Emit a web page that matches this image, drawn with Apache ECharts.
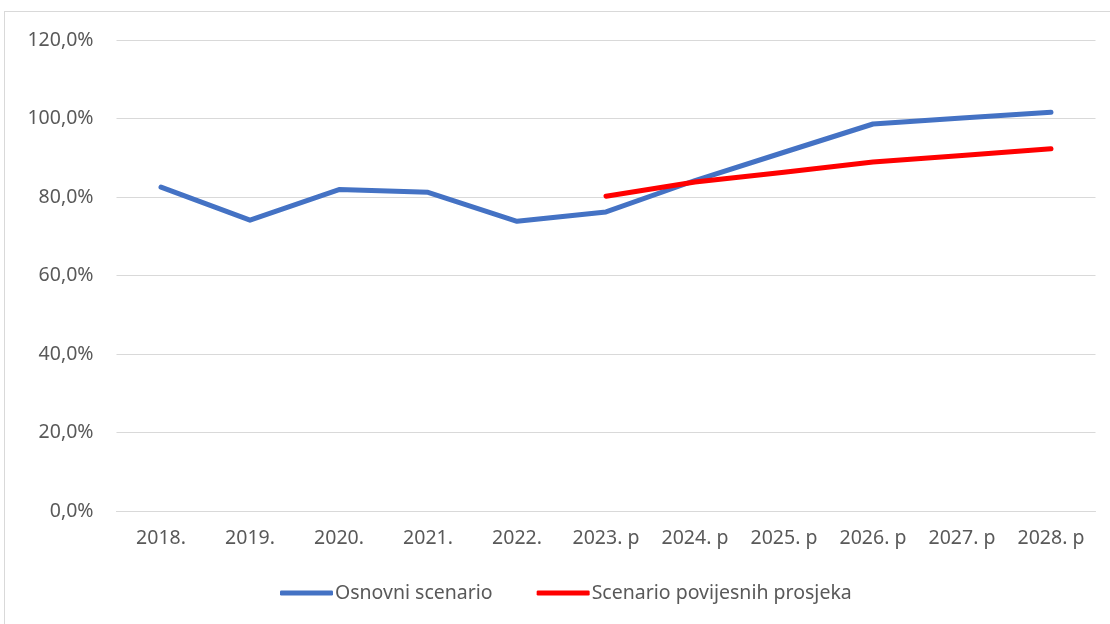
<!DOCTYPE html>
<html>
<head>
<meta charset="utf-8">
<script src="https://cdn.jsdelivr.net/npm/echarts@6/dist/echarts.min.js"></script>
<style>
  html, body { margin: 0; padding: 0; background: #fff; }
  #frame { position: absolute; left: 4px; top: 11px; width: 1120px; height: 630px; border: 1px solid #d9d9d9; box-sizing: border-box; }
  #chart { position: absolute; left: 0; top: 0; width: 1110px; height: 624px; }
</style>
</head>
<body>
<div id="frame"></div>
<div id="chart"></div>
<script>
// kategorije (godine)
const years = ['2018.', '2019.', '2020.', '2021.', '2022.', '2023. p', '2024. p', '2025. p', '2026. p', '2027. p', '2028. p'];
// Osnovni scenario (%)
const osnovni = [82.5, 74.1, 81.9, 81.2, 73.8, 76.2, 84.2, 91.4, 98.6, 100.1, 101.6];
// Scenario povijesnih prosjeka (%)
const prosjeci = [null, null, null, null, null, 80.2, 83.8, 86.3, 88.9, 90.6, 92.3];
const seriesNames = ['Osnovni scenario', 'Scenario povijesnih prosjeka'];

const chart = echarts.init(document.getElementById('chart'));
const font = '"Noto Sans", sans-serif';

chart.setOption({
  animation: false,
  grid: { left: 116.5, right: 14.5, top: 40, bottom: 113 },
  legend: {
    top: 578,
    left: 275,
    itemWidth: 53,
    itemHeight: 5,
    itemGap: 44,
    icon: 'roundRect',
    textStyle: { color: '#595959', fontSize: 19.5, fontFamily: font, padding: [0, 0, 0, -3] },
    data: seriesNames
  },
  xAxis: {
    type: 'category',
    data: years,
    boundaryGap: true,
    axisLine: { show: true, lineStyle: { color: '#d9d9d9', width: 1 } },
    axisTick: { show: false },
    axisLabel: { color: '#595959', fontSize: 19.5, fontFamily: font, margin: 17 }
  },
  yAxis: {
    type: 'value',
    min: 0,
    max: 120,
    interval: 20,
    axisLine: { show: false },
    axisTick: { show: false },
    splitLine: { lineStyle: { color: '#d9d9d9', width: 1 } },
    axisLabel: {
      color: '#595959', fontSize: 19.5, fontFamily: font, margin: 23,
      formatter: v => v.toFixed(1).replace('.', ',') + '%'
    }
  },
  series: [
    {
      name: seriesNames[0],
      type: 'line',
      data: osnovni,
      symbol: 'none',
      lineStyle: { color: '#4472c4', width: 5, cap: 'round', join: 'round' },
      itemStyle: { color: '#4472c4' }
    },
    {
      name: seriesNames[1],
      type: 'line',
      data: prosjeci,
      symbol: 'none',
      lineStyle: { color: '#ff0000', width: 5, cap: 'round', join: 'round' },
      itemStyle: { color: '#ff0000' }
    }
  ]
});
</script>
</body>
</html>
